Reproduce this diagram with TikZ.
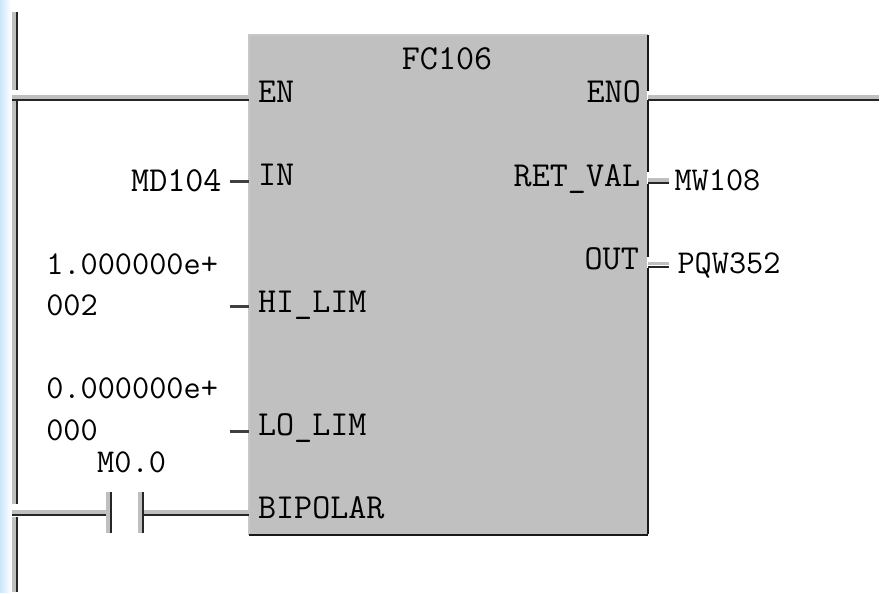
\documentclass[tikz,border=0pt]{standalone}
\usepackage{fontspec}
\usetikzlibrary{calc}
\definecolor{BlockGrey}{RGB}{192,192,192}
\definecolor{StripBlue}{RGB}{204,230,250}

\begin{document}
\begin{tikzpicture}[
  x=0.02cm, y=-0.02cm,
  font=\fontsize{20}{20}\selectfont\ttfamily,
  block/.style={fill=BlockGrey, minimum width=7.96cm, minimum height=10cm, inner sep=0pt},
  lbl/.style={anchor=base west, inner sep=0pt},
  num/.style={lbl, font=\fontsize{19}{19}\selectfont\ttfamily},
  wire/.style={line width=1.2pt, black!85, preaction={draw=black!25, line width=2.2pt, transform canvas={yshift=1.8pt}}},
  rail/.style={line width=1.2pt, black!85, preaction={draw=black!25, line width=2.2pt, transform canvas={xshift=-1.8pt}}},
  stub/.style={line width=1.8pt, black!75},
  edge/.style={line width=1.1pt, black!90},
  glow/.style={line width=1.1pt, black!22},
]
\fill[white] (0,0) rectangle (880,593);
\fill[left color=StripBlue, right color=white] (0,0) rectangle (11,593);

\node[block] (fc) at (449,285) {};
\draw[glow] (fc.south west) -- (fc.north west) -- (fc.north east);
\draw[edge] (fc.south west) -- (fc.south east);
% right edge is broken at each output pin
\foreach \a/\b in {35/91,100/172,184/257,268/535}
  \draw[edge] (fc.east|-0,\a) -- (fc.east|-0,\b);

\coordinate (railtop) at (17,12);
\coordinate (railbot) at (17,593);
\coordinate (railen) at (12,100);
\coordinate (railbi) at (12,516);
\coordinate (pinen) at (fc.west|-railen);
\coordinate (pineno) at (fc.east|-railen);
\coordinate (pagend) at (880,100);
\coordinate (pinbi) at (fc.west|-railbi);
\coordinate (noleft) at (111,516);
\coordinate (noright) at (143,516);

\draw[rail] (railtop) -- (17,90);
\draw[rail] (17,101) -- (17,505);
\draw[rail] (17,518) -- (railbot);
\draw[wire] (railen) -- (pinen);
\draw[wire] (pineno) -- (pagend);
\draw[wire] (railbi) -- (noleft);
\draw[wire] (noright) -- (pinbi);
\draw[rail] ($(noleft)+(0,-23)$) -- ($(noleft)+(0,18)$);
\draw[rail] ($(noright)+(0,-23)$) -- ($(noright)+(0,18)$);

\node[lbl] (title) at (402,70) {FC106};
\node[lbl] (en) at (258,103) {EN};
\node[lbl] (in) at (258,186) {IN};
\node[lbl] (hilim) at (258,313) {HI\_LIM};
\node[lbl] (lolim) at (258,436) {LO\_LIM};
\node[lbl] (bipolar) at (258,519) {BIPOLAR};
\node[lbl] (eno) at (587,103) {ENO};
\node[lbl] (retval) at (514,187) {RET\_VAL};
\node[lbl] (out) at (585,270) {OUT};

\node[lbl] (md) at (131,192) {MD104};
\node[num] (hione) at (46,275) {1.000000e+};
\node[num] (hitwo) at (46,316) {002};
\node[num] (loone) at (46,399) {0.000000e+};
\node[num] (lotwo) at (46,441) {000};
\node[num] (mzero) at (97,473) {M0.0};
\node[num] (mw) at (675,191) {MW108};
\node[num] (pqw) at (678,274) {PQW352};

\coordinate (stubin) at (230,182);
\coordinate (stubhi) at (230,307);
\coordinate (stublo) at (230,432);
\coordinate (stubmw) at (670,183);
\coordinate (stubpqw) at (670,267);
\draw[stub] (stubin) -- (fc.west|-stubin);
\draw[stub] (stubhi) -- (fc.west|-stubhi);
\draw[stub] (stublo) -- (fc.west|-stublo);
\draw[wire] (fc.east|-stubmw) -- (stubmw);
\draw[wire] (fc.east|-stubpqw) -- (stubpqw);
\end{tikzpicture}
\end{document}
